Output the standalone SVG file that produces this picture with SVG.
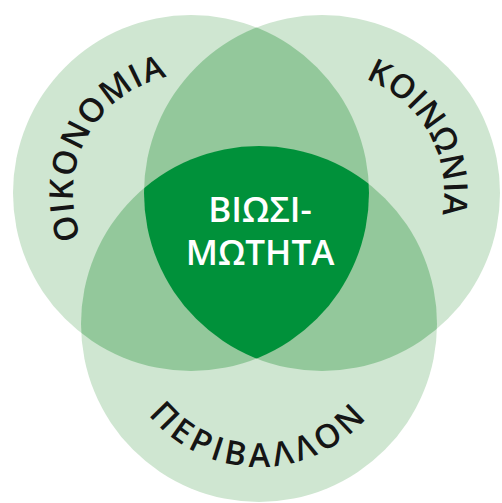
<svg xmlns="http://www.w3.org/2000/svg" width="502" height="503" viewBox="0 0 502 503">
<style>
.light{fill:#cfe6d1}
.mid{fill:#93c89b}
.dark{fill:#00913a}
.curve{font-family:"Open Sans","Noto Sans",sans-serif;font-size:33px;font-weight:600;fill:#151515}
.center{font-family:"Open Sans","Noto Sans",sans-serif;font-size:35px;font-weight:600;fill:#ffffff;text-anchor:middle}
</style>
<defs>
<clipPath id="cL"><circle cx="191" cy="193" r="178"/></clipPath>
<clipPath id="cR"><circle cx="322" cy="193" r="178"/></clipPath>
<path id="arcL" d="M134.7,299 A120,120 0 0 1 247.3,87.1"/>
<path id="arcR" d="M261.9,86.8 A122,122 0 0 1 382.1,299.2"/>
<path id="arcB" d="M116,321.5 A143,143 0 0 0 402,326.5"/>
</defs>
<g id="circle-oikonomia"><circle class="light" cx="191" cy="193" r="178"/></g>
<g id="circle-koinonia"><circle class="light" cx="322" cy="193" r="178"/></g>
<g id="circle-perivallon"><circle class="light" cx="259" cy="324" r="178"/></g>
<g id="overlaps">
<g clip-path="url(#cL)"><circle class="mid" cx="322" cy="193" r="178"/><circle class="mid" cx="259" cy="324" r="178"/></g>
<g clip-path="url(#cR)"><circle class="mid" cx="259" cy="324" r="178"/></g>
</g>
<g id="viosimotita">
<g clip-path="url(#cL)"><g clip-path="url(#cR)"><circle class="dark" cx="259" cy="324" r="178"/></g></g>
<text class="center" x="260" y="222">ΒΙΩΣΙ-</text>
<text class="center" x="260" y="265">ΜΩΤΗΤΑ</text>
</g>
<g id="labels">
<text class="curve"><textPath href="#arcL" startOffset="50%" text-anchor="middle" textLength="207" lengthAdjust="spacing">ΟΙΚΟΝΟΜΙΑ</textPath></text>
<text class="curve"><textPath href="#arcR" startOffset="50%" text-anchor="middle" textLength="169" lengthAdjust="spacing">ΚΟΙΝΩΝΙΑ</textPath></text>
<text class="curve"><textPath href="#arcB" startOffset="50%" text-anchor="middle" textLength="248" lengthAdjust="spacing">ΠΕΡΙΒΑΛΛΟΝ</textPath></text>
</g>
</svg>
